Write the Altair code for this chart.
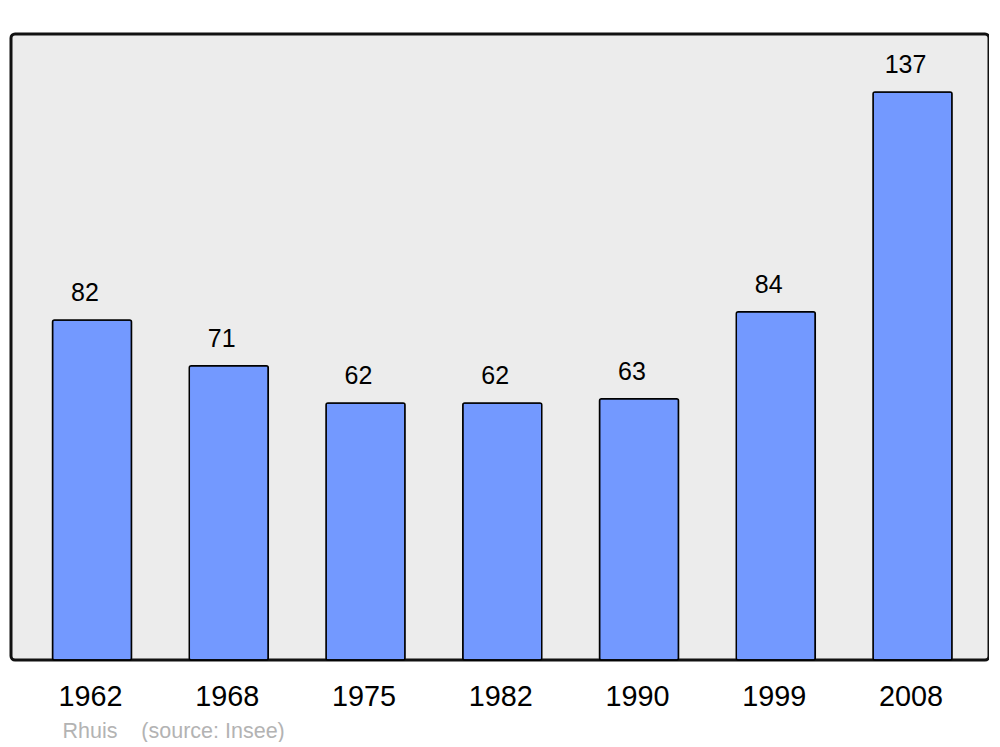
import altair as alt
import pandas as pd

years = ["1962", "1968", "1975", "1982", "1990", "1999", "2008"]
population = [82, 71, 62, 62, 63, 84, 137]
footer = "Rhuis\u00a0\u00a0\u00a0\u00a0(source: Insee)"

df = pd.DataFrame({"year": years, "pop": population})

FONT = "Liberation Sans"

x = alt.X(
    "year:N",
    sort=years,
    scale=alt.Scale(paddingInner=0.4223, paddingOuter=0.287, align=0.529),
    axis=alt.Axis(
        title=footer,
        titleFont=FONT,
        titleFontSize=21.5,
        titleFontWeight="normal",
        titleColor="#b3b3b3",
        titleAnchor="start",
        titleAlign="left",
        titleBaseline="alphabetic",
        titleX=51,
        titleY=77,
        labelFont=FONT,
        labelFontSize=28.8,
        labelColor="#000000",
        labelAngle=0,
        labelBaseline="alphabetic",
        labelPadding=45,
        labelOffset=-1.5,
        ticks=False,
        tickSize=0,
        domain=False,
        grid=False,
    ),
)
y = alt.Y("pop:Q", scale=alt.Scale(domain=[0, 151], nice=False, zero=True), axis=None)

bars = alt.Chart(df).mark_bar(
    color="#7399ff", stroke="#000000", strokeWidth=1.5, cornerRadius=2
).encode(x=x, y=y)

labels = alt.Chart(df).mark_text(
    font=FONT, fontSize=25, color="#000000", baseline="alphabetic", dy=-19, dx=-7
).encode(x=x, y=y, text="pop:Q")

chart = (
    alt.layer(bars, labels)
    .properties(
        width=978,
        height=626,
        padding={"left": 3, "top": 26, "right": 0, "bottom": 0},
        background="#ffffff",
    )
    .configure_view(fill="#ececec", stroke="#111111", strokeWidth=3, cornerRadius=4)
)

chart.save("out.html", embed_options={"renderer": "svg", "actions": False})
